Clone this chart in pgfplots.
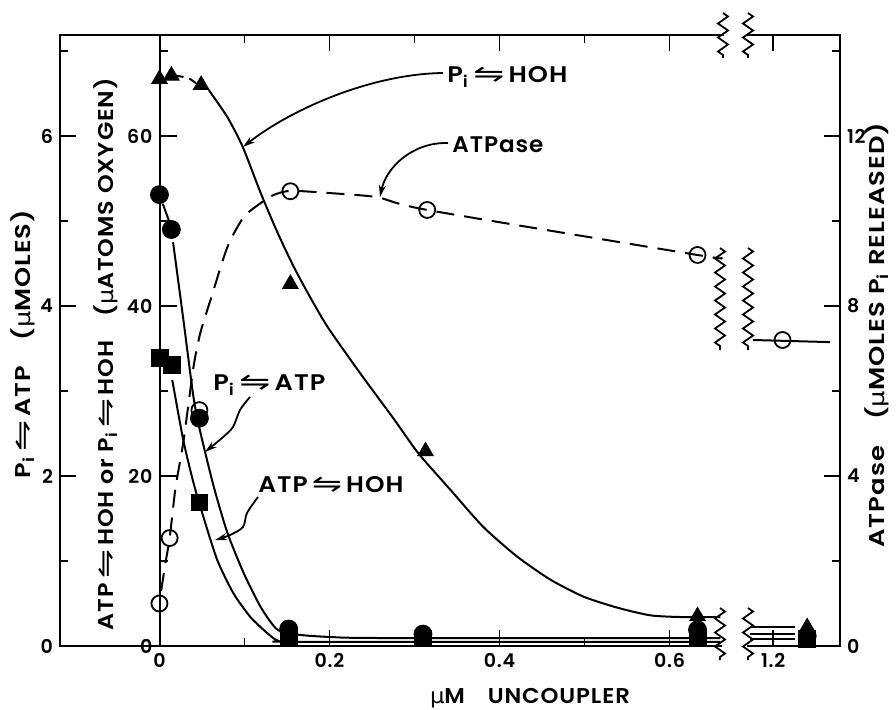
\documentclass[border=0pt]{standalone}
\usepackage{pgfplots}
\pgfplotsset{compat=1.18}
\usepackage{fontspec}
\setmainfont{Poppins}[UprightFont={* SemiBold}, LetterSpace=4]
\newfontfamily\sym{DejaVu Sans}
\usetikzlibrary{arrows.meta,decorations.pathmorphing}

\newcommand{\rx}{\,\scalebox{1.45}[1.1]{\sym ⇋}\,}
\newcommand{\um}{{\sym μ}}
\newcommand{\Pii}{P\textsubscript{i}}
\newcommand{\fitw}[2]{\resizebox{#1}{\height}{#2}}

% px of the reference -> 0.5pt; frame: left 60, right 840, top 35, bottom 646
\pgfplotsset{
  base/.style={
    scale only axis, height=305.5pt, ymin=0,
    x filter/.expression={x>1 ? x-0.478 : x},
    clip=false,
    axis line style={line width=1pt},
    tick align=inside,
    major tick length=8pt, minor tick length=4pt,
    every tick/.style={black, line width=0.9pt},
    tick label style={font=\fontsize{9.5}{10}\selectfont},
    /pgf/number format/assume math mode=true,
  },
  curve/.style={black, line width=1pt, no marks, smooth, tension=0.4},
  seg/.style={black, line width=1pt, no marks},
}

\begin{document}
\begin{tikzpicture}
\useasboundingbox (-30pt,-31.5pt) rectangle (418pt,323pt);

% left scale: Pi <-> ATP (umoles)
\begin{axis}[base, at={(0,0)}, anchor=south west, width=390pt,
  xmin=-0.117, xmax=0.8006, ymax=7.188,
  xtick={0,0.2,0.4,0.6,0.722}, xticklabels={0,0.2,0.4,0.6,1.2},
  minor xtick={0.1,0.3,0.5},
  ytick={0,2,4,6}, minor ytick={1,3,5,7}, ytick pos=left]
\addplot[seg] coordinates {(0.004,5.2) (0.012,4.98)};
\addplot[curve] coordinates {
  (0.016,4.75) (0.028,3.85) (0.040,2.93) (0.048,2.52) (0.064,1.87)
  (0.080,1.33) (0.099,0.86) (0.119,0.46) (0.139,0.19) (0.166,0.13)
  (0.201,0.106) (0.260,0.094) (0.660,0.094)};
\addplot[seg] coordinates {(1.173,0.14) (1.226,0.14)};
\addplot[only marks, mark=*, mark size=4.5pt, black] coordinates {
  (0,5.31) (0.014,4.90) (0.047,2.68) (0.152,0.20) (0.31,0.14) (0.633,0.19) (1.24,0.12)};
\end{axis}

% middle scale: ATP <-> HOH or Pi <-> HOH (uatoms oxygen)
\begin{axis}[base, at={(49.75pt,0)}, anchor=south west, width=340.25pt,
  xmin=0, xmax=0.8006, ymax=71.88,
  axis x line=none, axis y line*=left,
  ytick={0,20,40,60}, minor ytick={10,30,50,70}, major tick length=8.5pt]
% Pi <-> HOH
\addplot[black, line width=1pt, no marks, dash pattern=on 4pt off 3pt, smooth]
  coordinates {(0.019,67.1) (0.034,66.8) (0.043,66.2)};
\addplot[curve] coordinates {
  (0.058,65.4) (0.080,62.2) (0.098,58.7) (0.119,53.3) (0.139,48.6)
  (0.158,44.6) (0.178,40.9) (0.198,37.5) (0.236,32.1) (0.275,26.8)
  (0.299,23.4) (0.311,21.9) (0.342,18.4) (0.381,14.0) (0.421,10.5)
  (0.460,7.8) (0.499,5.8) (0.539,4.5) (0.578,3.6) (0.616,3.4) (0.660,3.4)};
\addplot[seg] coordinates {(1.173,2.2) (1.226,2.2)};
% ATP <-> HOH
\addplot[curve] coordinates {
  (0.015,31.3) (0.028,24.2) (0.040,19.2) (0.051,15.4) (0.068,10.1)
  (0.087,6.2) (0.107,3.4) (0.127,1.5) (0.140,0.6) (0.166,0.5) (0.660,0.5)};
\addplot[seg] coordinates {(1.173,0.8) (1.226,0.8)};
\addplot[only marks, mark=square*, mark size=4.2pt, black] coordinates {
  (0,33.9) (0.015,33.1) (0.047,16.9) (0.152,0.9) (0.31,0.9) (0.633,0.9) (1.24,0.8)};
\addplot[only marks, mark=triangle*, mark size=4.5pt, black] coordinates {
  (0,66.7) (0.014,67.1) (0.049,66.0) (0.154,42.6) (0.313,22.9) (0.633,3.5) (1.24,2.2)};
\end{axis}

% right scale: ATPase (umoles Pi released)
\begin{axis}[base, at={(0,0)}, anchor=south west, width=390pt,
  xmin=-0.117, xmax=0.8006, ymax=14.376,
  axis x line=none, axis y line*=right,
  ytick={0,4,8,12}, minor ytick={2,6,10,14}]
\addplot[curve, dash pattern=on 9pt off 5pt] coordinates {
  (0.002,1.3) (0.007,1.95) (0.012,2.54) (0.019,3.74) (0.028,4.78)
  (0.040,6.56) (0.048,7.36) (0.060,8.14) (0.080,9.39) (0.099,10.09)
  (0.119,10.42) (0.134,10.61) (0.154,10.71) (0.198,10.66) (0.256,10.56)
  (0.315,10.26) (0.633,9.20) (0.660,9.13)};
\addplot[seg] coordinates {(1.176,7.2) (1.267,7.15)};
\addplot[only marks, mark=o, mark size=4pt, black, mark options={fill=white, line width=0.9pt}]
  coordinates {(0,1.0) (0.012,2.54) (0.047,5.55) (0.154,10.7) (0.315,10.26) (0.633,9.2) (1.211,7.2)};
\end{axis}

% annotations, in pixel coordinates of the reference
\begin{scope}[shift={(-30pt,323pt)}, x=0.5pt, y=-0.5pt]
  % gaps of the broken x axis
  \fill[white] (724,30) rectangle (747,40);
  \fill[white] (722,642) rectangle (747,651);
  \begin{scope}[line width=0.9pt, decoration={zigzag, segment length=7pt, amplitude=2.5pt}]
    \foreach \xx/\ya/\yb in {723/13/58, 748/13/58, 720/248/350, 748/248/350, 720/608/660, 748/608/660}
      \draw[decorate] (\xx,\ya) -- (\xx,\yb);
  \end{scope}
  \begin{scope}[line width=0.9pt, -{Stealth[length=6pt, width=3.5pt]}]
    \draw (443,73) .. controls (370,74) and (290,110) .. (243,147);
    \draw (448,143) .. controls (412,142) and (386,168) .. (380,197);
    \draw plot[smooth] coordinates {(250,397) (240,410) (233,427) (222,438) (205,452)};
    \draw plot[smooth] coordinates {(258,497) (247,513) (243,527) (230,535) (215,540)};
  \end{scope}
  \begin{scope}[every node/.style={font=\fontsize{10.7}{12}\selectfont, inner sep=0pt}]
    \node[anchor=west, font=\fontsize{11.3}{12}\selectfont] at (447,77) {\fitw{60pt}{\Pii\rx HOH}};
    \node[anchor=west, font=\fontsize{11.3}{12}\selectfont] at (452,145) {\fitw{45.5pt}{ATPase}};
    \node[anchor=west, font=\fontsize{11.3}{12}\selectfont] at (213,385) {\fitw{56pt}{\Pii\rx ATP}};
    \node[anchor=west, font=\fontsize{11.3}{12}\selectfont] at (258,485) {\fitw{72.5pt}{ATP\rx HOH}};
    \node[rotate=90] at (23,344) {\fitw{134pt}{\Pii\rx ATP\quad(\um MOLES)}};
    \node[rotate=90] at (106,354) {\fitw{276pt}{ATP\rx HOH or \Pii\rx HOH\quad(\um ATOMS OXYGEN)}};
    \node[rotate=90] at (877,335) {\fitw{212.5pt}{ATPase\quad(\um MOLES \Pii\ RELEASED)}};
    \node at (530,698) {\fitw{100pt}{\um M\quad UNCOUPLER}};
  \end{scope}
\end{scope}
\end{tikzpicture}
\end{document}
